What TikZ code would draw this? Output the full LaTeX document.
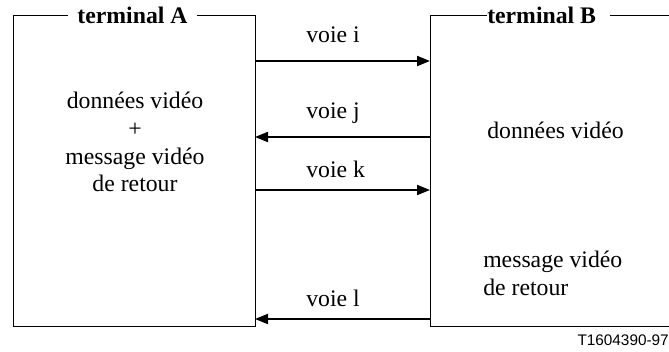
\documentclass[tikz,border=0pt]{standalone}
\usepackage{fontspec}
\setmainfont{Liberation Serif}
\newfontfamily\arialf{Liberation Sans}
\usetikzlibrary{arrows.meta}
\begin{document}
\begin{tikzpicture}[x=0.75pt,y=-0.75pt,
  boxline/.style={line width=0.75pt},
  chan/.style={line width=1.5pt,-{Triangle[length=9.75pt,width=7.5pt]}},
  txt/.style={inner sep=0pt,font=\fontsize{17.8}{21}\selectfont},
  ttl/.style={inner sep=0pt,font=\fontsize{17.8}{21}\selectfont\bfseries},
  lbl/.style={inner sep=0pt,anchor=base west,font=\fontsize{17.8}{21}\selectfont}]
\useasboundingbox (0,0) rectangle (669,351);
% terminal A frame
\coordinate (A-tl) at (13,15);
\coordinate (A-bl) at (13,326);
\coordinate (A-br) at (255,326);
\coordinate (A-tr) at (255,15);
\coordinate (A-g1) at (68,15);
\coordinate (A-g2) at (197,15);
\draw[boxline] (A-g1) -- (A-tl) -- (A-bl) -- (A-br) -- (A-tr) -- (A-g2);
\node[ttl,anchor=base] (titleA) at (132.5,23) {terminal A};
% terminal B frame
\coordinate (B-g1) at (487,15);
\coordinate (B-tl) at (430,15);
\coordinate (B-bl) at (430,326);
\coordinate (B-br) at (669,326);
\coordinate (B-g2) at (610,15);
\coordinate (B-tr) at (669,15);
\draw[boxline] (B-g1) -- (B-tl) -- (B-bl) -- (B-br);
\draw[boxline] (B-g2) -- (B-tr);
\node[ttl,anchor=base west] (titleB) at (487,23) {terminal B};
% texts in A
\node[txt,anchor=base] (A-t1) at (135,108) {données vidéo};
\node[txt,anchor=base] (A-t2) at (135,136) {+};
\node[txt,anchor=base] (A-t3) at (135,164) {message vidéo};
\node[txt,anchor=base] (A-t4) at (135,191) {de retour};
% texts in B
\node[txt,anchor=base west] (B-t1) at (487,138) {données vidéo};
\node[txt,anchor=base west] (B-t2) at (483,267) {message vidéo};
\node[txt,anchor=base west] (B-t3) at (483,295) {de retour};
% channels
\coordinate (Ai) at (255,61);  \coordinate (Bi) at (430,61);
\coordinate (Aj) at (255,137); \coordinate (Bj) at (430,137);
\coordinate (Ak) at (255,190); \coordinate (Bk) at (430,190);
\coordinate (Al) at (255,319); \coordinate (Bl) at (430,319);
\draw[chan] (Ai) -- (Bi);
\draw[chan] (Bj) -- (Aj);
\draw[chan] (Ak) -- (Bk);
\draw[chan] (Bl) -- (Al);
\node[lbl] (li) at (306,42) {voie i};
\node[lbl] (lj) at (306,118) {voie j};
\node[lbl] (lk) at (306,177) {voie k};
\node[lbl] (ll) at (306,306) {voie l};
% reference number
\node[inner sep=0pt,anchor=base east,font=\arialf\fontsize{11.5}{13}\selectfont] (ref) at (669,345) {T1604390-97};
\end{tikzpicture}
\end{document}
